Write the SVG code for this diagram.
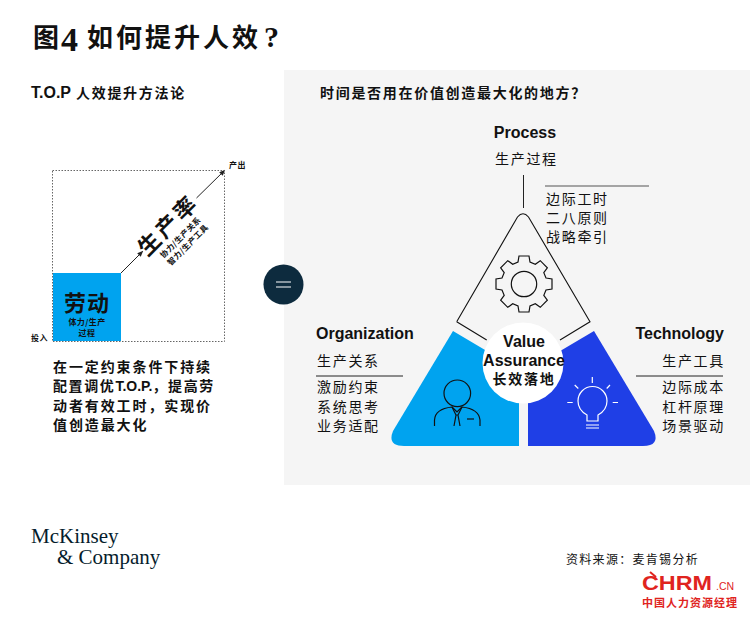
<svg xmlns="http://www.w3.org/2000/svg" width="750" height="620" viewBox="0 0 750 620">
<style>
text{font-family:"Noto Sans CJK SC","Liberation Sans",sans-serif;fill:#111}
.lat{font-family:"Liberation Sans",sans-serif;font-weight:700;font-size:16px}
.cj{font-size:14px;letter-spacing:1.7px}
.b{font-weight:700}
.tiny{font-size:8px;font-weight:700;letter-spacing:.4px}
.mck{font-family:"Liberation Serif",serif;font-size:21px;fill:#051c2c}
.rule{stroke:#222;stroke-width:1;fill:none}
.ic{fill:none;stroke:#111;stroke-width:1.2}
.ri{fill:none;stroke:#fff;stroke-width:1.2}
</style>
<defs>
<marker id="ah" markerWidth="6" markerHeight="6" refX="5" refY="3" orient="auto"><path d="M0,0.5 L6,3 L0,5.5 Z" fill="#222"/></marker>
</defs>
<rect width="750" height="620" fill="#fff"/>
<rect x="284" y="70" width="466" height="415" fill="#f5f5f5"/>

<text x="33" y="47" font-size="26" font-weight="700">图</text>
<text x="61" y="51" font-size="34" font-weight="700" style="font-family:'Liberation Serif',serif">4</text>
<text x="87" y="47" font-size="26" font-weight="700" letter-spacing="3">如何提升人效<tspan dx="3" font-size="30" style="font-family:'Liberation Serif',serif">?</tspan></text>

<text x="31" y="98" class="lat">T.O.P</text>
<text x="76" y="98" class="cj b">人效提升方法论</text>
<text x="320" y="98" class="cj b">时间是否用在价值创造最大化的地方&#xFF1F;</text>

<g id="connectors">
<path d="M121,273 L142.5,251.5" stroke="#222" stroke-width="1" fill="none" marker-end="url(#ah)"/>
<path d="M196.5,198 L224.5,170.5" stroke="#222" stroke-width="1" fill="none" marker-end="url(#ah)"/>
<path d="M523.5,175 V208" class="rule"/>
</g>

<g id="productivity-chart">
<rect x="52.5" y="170.5" width="172" height="171" fill="none" stroke="#666" stroke-width="1" stroke-dasharray="1.5 1.5"/>
<rect x="53" y="273" width="68" height="68" fill="#00a3ef"/>
<text x="87" y="311" font-size="22" font-weight="700" text-anchor="middle" letter-spacing="1">劳动</text>
<text x="87" y="324.5" class="tiny" text-anchor="middle">体力/生产</text>
<text x="87" y="335.5" class="tiny" text-anchor="middle">过程</text>
<text x="31" y="341" class="tiny">投入</text>
<text x="229" y="168" class="tiny">产出</text>
<g transform="translate(168,225) rotate(-45)">
<text x="0" y="8" font-size="22" font-weight="700" text-anchor="middle" letter-spacing="3">生产率</text>
<text x="0" y="20.5" class="tiny" text-anchor="middle">协力/生产关系</text>
<text x="0" y="31" class="tiny" text-anchor="middle">智力/生产工具</text>
</g>
</g>

<g id="left-note" class="b" font-size="14" letter-spacing="1.9">
<text x="53" y="372">在一定约束条件下持续</text>
<text x="53" y="391" letter-spacing="1.6">配置调优<tspan class="lat" style="font-size:14px;letter-spacing:0">T.O.P.</tspan>&#xFF0C;提高劳</text>
<text x="53" y="411">动者有效工时&#xFF0C;实现价</text>
<text x="53" y="430">值创造最大化</text>
</g>

<g id="equals">
<circle cx="283.5" cy="284.5" r="20" fill="#0d2b3e"/>
<path d="M276,282 H291 M276,287 H291" stroke="#fff" stroke-width="1.2"/>
</g>

<g id="process">
<path d="M456.7,321.7 L517.5,217 Q523,210.5 528.5,217 L590,321.7 L560,340 M486.7,340 L456.7,321.7" fill="none" stroke="#111" stroke-width="1.1"/>
<path transform="translate(524,284)" class="ic" d="M22,-6 L28,-5 L28,5 L22,6 L19.8,11.31 L23.34,16.26 L16.26,23.34 L11.31,19.8 L6,22 L5,28 L-5,28 L-6,22 L-11.31,19.8 L-16.26,23.34 L-23.34,16.26 L-19.8,11.31 L-22,6 L-28,5 L-28,-5 L-22,-6 L-19.8,-11.31 L-23.34,-16.26 L-16.26,-23.34 L-11.31,-19.8 L-6,-22 L-5,-28 L5,-28 L6,-22 L11.31,-19.8 L16.26,-23.34 L23.34,-16.26 L19.8,-11.31 Z"/>
<circle cx="524" cy="284" r="12.7" class="ic"/>
<text x="525" y="138" class="lat" text-anchor="middle">Process</text>
<text x="495" y="164" class="cj">生产过程</text>
<path d="M545,186 H649" stroke="#555" stroke-width="1.2"/>
<text x="546" y="204" class="cj">边际工时</text>
<text x="546" y="223" class="cj">二八原则</text>
<text x="546" y="242" class="cj">战略牵引</text>
</g>

<g id="organization">
<path d="M453,331 L519,370 V446 H404 Q387,446 393,431 Z" fill="#00a3ef"/>
<circle cx="457.3" cy="393.3" r="13.3" class="ic"/>
<path class="ic" d="M434.5,426 V420 Q435,409 452,407 L457,412 L462,407 Q479,409 480,420 V426"/>
<path class="ic" d="M452,407 L456,415 L454,426 M462,407 L458,415 L460,426 M456,415 H458"/>
<path d="M467,419 H474" stroke="#111" stroke-width="1.2"/>
<text x="316" y="339" class="lat">Organization</text>
<text x="317" y="366" class="cj">生产关系</text>
<path d="M316,376 H403" class="rule"/>
<text x="317" y="392" class="cj">激励约束</text>
<text x="317" y="412" class="cj">系统思考</text>
<text x="317" y="431" class="cj">业务适配</text>
</g>

<g id="technology">
<path d="M594,331 L528,370 V446 H643 Q660,446 654,431 Z" fill="#1f3fe6"/>
<path class="ri" d="M587,421 V415 Q578,410 578,401 A14.5,14.5 0 1 1 607,401 Q607,410 598,415 V421 Z"/>
<path class="ri" d="M586,425 H599 M586,428 H599 M592.3,377 V383 M574.7,385 L578.3,388.5 M610,385 L606.7,388.5 M567.3,402.5 H572.7 M612.7,402.5 H618"/>
<text x="724" y="339" class="lat" text-anchor="end">Technology</text>
<text x="725" y="366" class="cj" text-anchor="end">生产工具</text>
<path d="M636,376 H723" class="rule"/>
<text x="725" y="392" class="cj" text-anchor="end">边际成本</text>
<text x="725" y="412" class="cj" text-anchor="end">杠杆原理</text>
<text x="725" y="431" class="cj" text-anchor="end">场景驱动</text>
</g>

<g id="value">
<circle cx="523" cy="363" r="40.5" fill="#fff"/>
<text x="524" y="347" class="lat" text-anchor="middle">Value</text>
<text x="524" y="366" class="lat" text-anchor="middle">Assurance</text>
<text x="524" y="384" class="cj b" text-anchor="middle">长效落地</text>
</g>

<g id="footer">
<text x="31" y="543" class="mck">McKinsey</text>
<text x="57" y="564" class="mck">&amp; Company</text>
<text x="566" y="564" font-size="12" letter-spacing="1.3">资料来源&#xFF1A;麦肯锡分析</text>
<path d="M650,572 L656,577" stroke="#e0241e" stroke-width="2"/>
<text x="642" y="590" class="lat" style="fill:#e0241e;font-size:20.5px" textLength="70" lengthAdjust="spacingAndGlyphs">CHRM</text>
<text x="716" y="590" style="fill:#e0241e;font-size:10.5px;font-family:'Liberation Sans',sans-serif">.CN</text>
<text x="642" y="607" style="fill:#e0241e;font-size:11px;font-weight:700;letter-spacing:1px">中国人力资源经理</text>
</g>
</svg>
